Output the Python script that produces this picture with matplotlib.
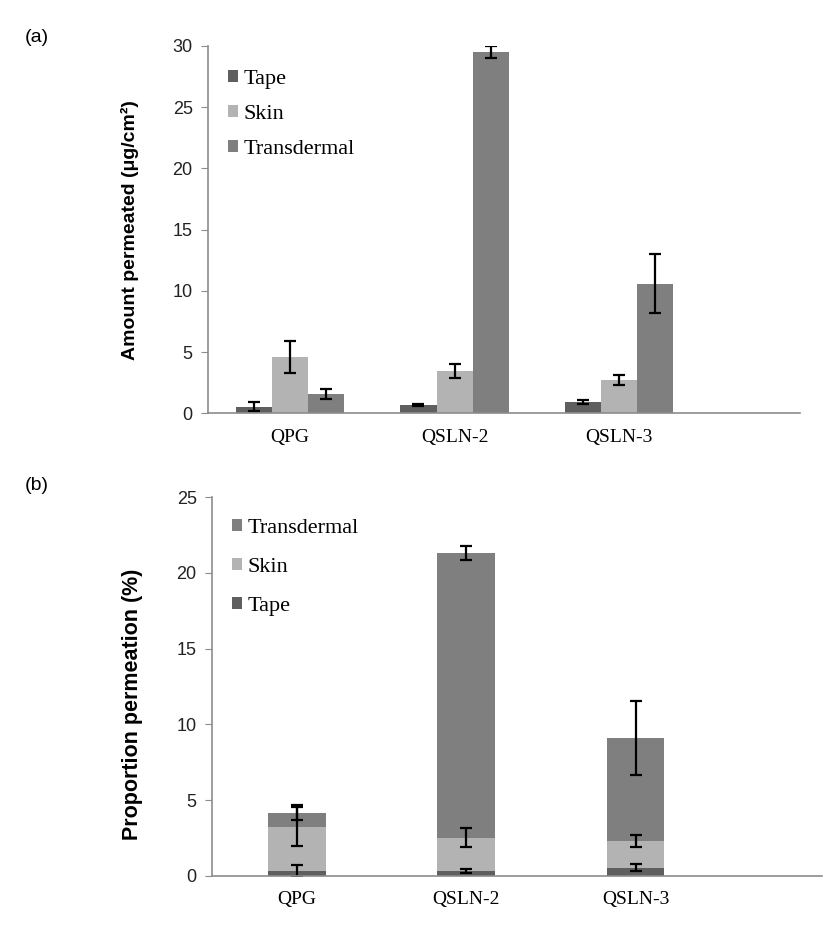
import matplotlib
matplotlib.use("Agg")
import matplotlib.pyplot as plt
from matplotlib.patches import Patch
import numpy as np

CATEGORIES = ["QPG", "QSLN-2", "QSLN-3"]
SERIES = ["Tape", "Skin", "Transdermal"]

# (a) amount permeated (ug/cm2)
AMOUNT = {
    "Tape": [0.54, 0.68, 0.92],
    "Skin": [4.58, 3.46, 2.70],
    "Transdermal": [1.58, 29.5, 10.6],
}
AMOUNT_ERR = {
    "Tape": [0.38, 0.10, 0.20],
    "Skin": [1.32, 0.58, 0.42],
    "Transdermal": [0.43, 0.50, 2.40],
}

# (b) proportion permeation (%), stacked
PROP = {
    "Tape": [0.33, 0.33, 0.55],
    "Skin": [2.92, 2.19, 1.76],
    "Transdermal": [0.92, 18.8, 6.80],
}
PROP_ERR = {
    "Tape": [0.39, 0.13, 0.25],
    "Skin": [1.27, 0.62, 0.37],
    "Transdermal": [0.49, 0.45, 2.45],
}

COLORS = {"Tape": "#5f5f5f", "Skin": "#b3b3b3", "Transdermal": "#7f7f7f"}
SPINE = "#8c8c8c"
SERIF = "Liberation Serif"
SANS = "Liberation Sans"
XMAX = 3.6  # axis line runs on past the last group

W, H = 838, 936
fig = plt.figure(figsize=(W / 100, H / 100), dpi=100)


def style_axes(ax, ymax, ystep):
    ax.set_xlim(0, XMAX)
    ax.set_ylim(0, ymax)
    ax.set_yticks(np.arange(0, ymax + 0.1, ystep))
    ax.set_xticks(np.arange(len(CATEGORIES)) + 0.5)
    ax.set_xticklabels(CATEGORIES, fontfamily=SERIF, fontsize=14)
    for lab in ax.get_yticklabels():
        lab.set_fontfamily(SANS)
        lab.set_fontsize(13)
        lab.set_color("#222222")
    ax.tick_params(axis="x", length=0, pad=11)
    ax.tick_params(axis="y", length=5, color=SPINE, pad=6, direction="out")
    for s in ["top", "right"]:
        ax.spines[s].set_visible(False)
    for s in ["left", "bottom"]:
        ax.spines[s].set_color(SPINE)
        ax.spines[s].set_linewidth(1.2)


# ---------------- (a) grouped bars ----------------
axA = fig.add_axes([208 / W, 1 - 413.3 / H, 592 / W, 367.3 / H])
x = np.arange(len(CATEGORIES)) + 0.5
bw = 0.22
for i, name in enumerate(SERIES):
    axA.bar(x + (i - 1) * bw, AMOUNT[name], width=bw, color=COLORS[name],
            yerr=AMOUNT_ERR[name], capsize=4.5,
            error_kw=dict(ecolor="black", elinewidth=1.6, capthick=1.6))
style_axes(axA, 30, 5)
axA.set_ylabel("Amount permeated (\u03bcg/cm\u00b2)", fontfamily=SANS,
               fontweight="bold", fontsize=14)
axA.yaxis.set_label_coords(-0.117, 0.5)
handles = [Patch(facecolor=COLORS[n]) for n in SERIES]
axA.legend(handles, SERIES, loc="upper left", bbox_to_anchor=(0.0, 0.99),
           frameon=False, handlelength=0.45, handleheight=0.45, handletextpad=0.25,
           labelspacing=0.72, prop=dict(family=SERIF, size=16))

# ---------------- (b) stacked bars ----------------
axB = fig.add_axes([212 / W, 1 - 876 / H, 610 / W, 379 / H])
bwb = 0.34
bottom = np.zeros(len(CATEGORIES))
for name in SERIES:
    vals = np.array(PROP[name])
    axB.bar(x, vals, width=bwb, bottom=bottom, color=COLORS[name])
    bottom = bottom + vals
top = np.zeros(len(CATEGORIES))
for name in SERIES:
    top = top + np.array(PROP[name])
    axB.errorbar(x, top, yerr=PROP_ERR[name], fmt="none", ecolor="black",
                 elinewidth=1.6, capsize=4.5, capthick=1.6)
style_axes(axB, 25, 5)
axB.set_ylabel("Proportion permeation (%)", fontfamily=SANS,
               fontweight="bold", fontsize=15.5)
axB.yaxis.set_label_coords(-0.113, 0.454)
order = ["Transdermal", "Skin", "Tape"]
handles = [Patch(facecolor=COLORS[n]) for n in order]
axB.legend(handles, order, loc="upper left", bbox_to_anchor=(0.0, 0.995),
           frameon=False, handlelength=0.45, handleheight=0.45, handletextpad=0.25,
           labelspacing=0.9, prop=dict(family=SERIF, size=16))

fig.text(25 / W, 1 - 38 / H, "(a)", fontfamily=SANS, fontsize=14, va="center")
fig.text(25 / W, 1 - 485 / H, "(b)", fontfamily=SANS, fontsize=14, va="center")

fig.savefig("out.png", dpi=100)
